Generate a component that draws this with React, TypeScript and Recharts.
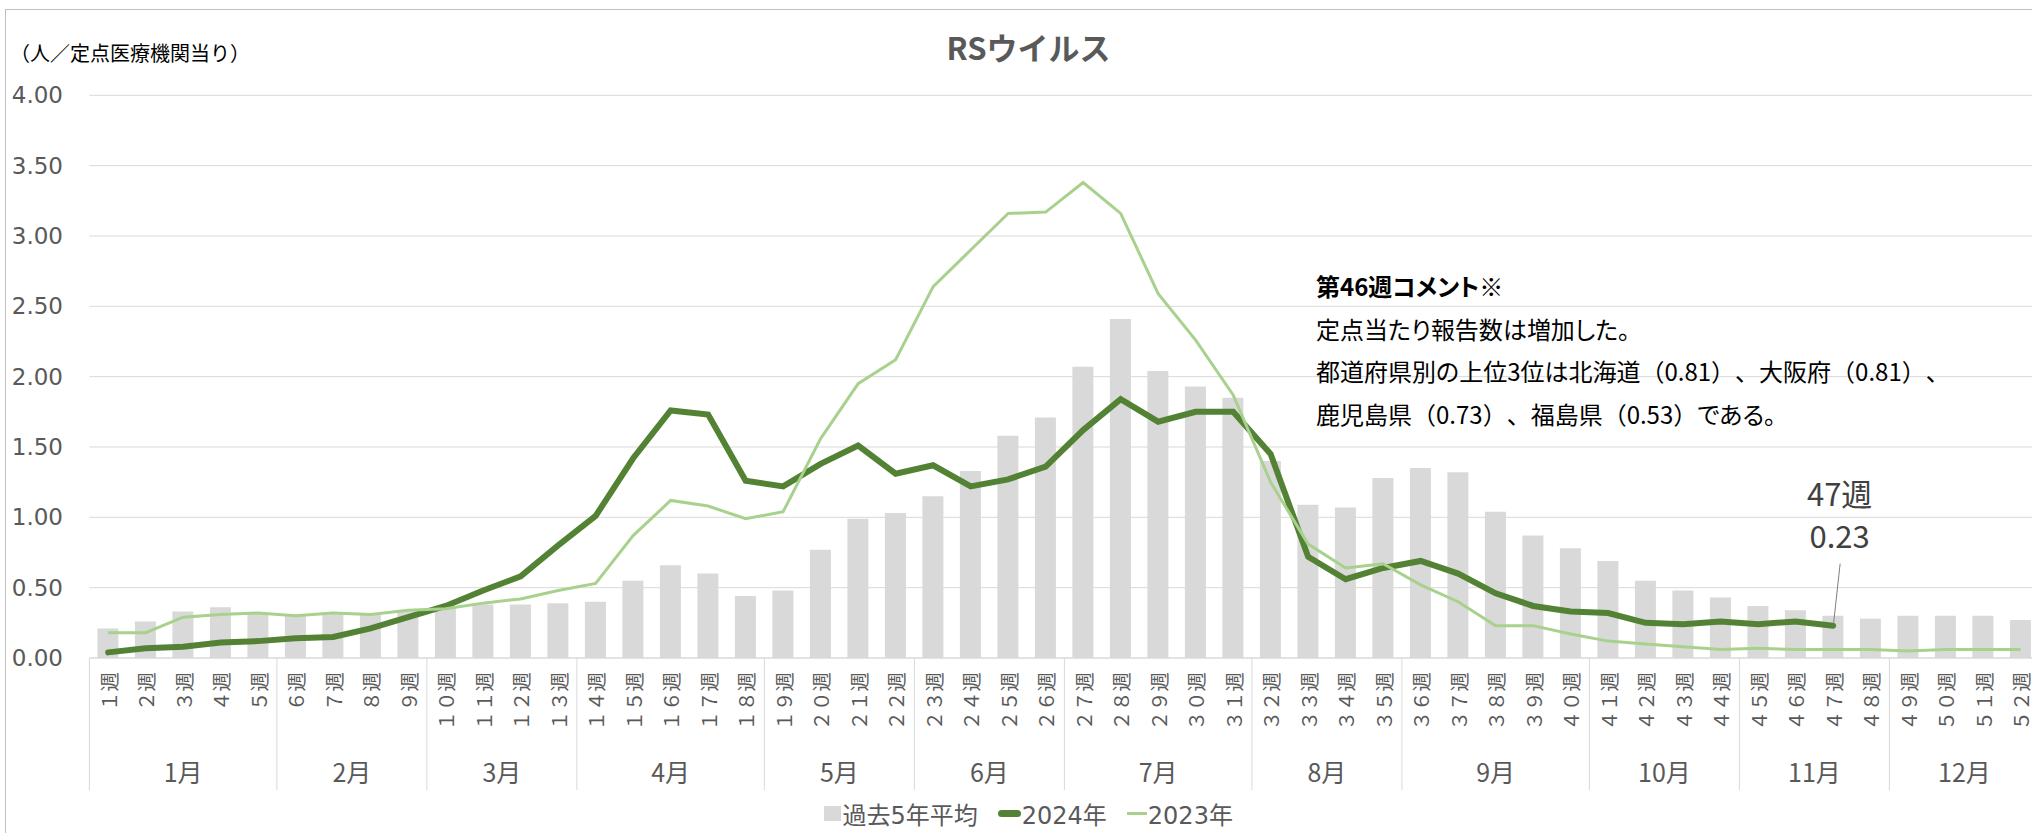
import { ComposedChart, Bar, Line, XAxis, YAxis, CartesianGrid, Legend } from 'recharts';

const WEEKS = [
  '1週', '2週', '3週', '4週', '5週', '6週', '7週', '8週', '9週', '10週',
  '11週', '12週', '13週', '14週', '15週', '16週', '17週', '18週', '19週', '20週',
  '21週', '22週', '23週', '24週', '25週', '26週', '27週', '28週', '29週', '30週',
  '31週', '32週', '33週', '34週', '35週', '36週', '37週', '38週', '39週', '40週',
  '41週', '42週', '43週', '44週', '45週', '46週', '47週', '48週', '49週', '50週',
  '51週', '52週',
];

const MONTHS = ['1月', '2月', '3月', '4月', '5月', '6月', '7月', '8月', '9月', '10月', '11月', '12月'];
const MONTH_WEEKS = [5, 4, 4, 5, 4, 4, 5, 4, 5, 4, 4, 4];

// 過去5年平均
const AVG_5Y = [
  0.21, 0.26, 0.33, 0.36, 0.32, 0.30, 0.31, 0.31, 0.34, 0.36,
  0.38, 0.38, 0.39, 0.40, 0.55, 0.66, 0.60, 0.44, 0.48, 0.77,
  0.99, 1.03, 1.15, 1.33, 1.58, 1.71, 2.07, 2.41, 2.04, 1.93,
  1.85, 1.40, 1.09, 1.07, 1.28, 1.35, 1.32, 1.04, 0.87, 0.78,
  0.69, 0.55, 0.48, 0.43, 0.37, 0.34, 0.30, 0.28, 0.30, 0.30,
  0.30, 0.27,
];

// 2024年 (47週まで)
const Y2024 = [
  0.04, 0.07, 0.08, 0.11, 0.12, 0.14, 0.15, 0.21, 0.29, 0.37,
  0.48, 0.58, 0.80, 1.01, 1.42, 1.76, 1.73, 1.26, 1.22, 1.38,
  1.51, 1.31, 1.37, 1.22, 1.27, 1.36, 1.62, 1.84, 1.68, 1.75,
  1.75, 1.45, 0.72, 0.56, 0.64, 0.69, 0.60, 0.46, 0.37, 0.33,
  0.32, 0.25, 0.24, 0.26, 0.24, 0.26, 0.23,
];

const Y2023 = [
  0.18, 0.18, 0.29, 0.31, 0.32, 0.30, 0.32, 0.31, 0.34, 0.35,
  0.39, 0.42, 0.48, 0.53, 0.87, 1.12, 1.08, 0.99, 1.04, 1.56,
  1.95, 2.12, 2.64, 2.90, 3.16, 3.17, 3.38, 3.16, 2.59, 2.26,
  1.87, 1.25, 0.81, 0.64, 0.67, 0.52, 0.40, 0.23, 0.23, 0.17,
  0.12, 0.10, 0.08, 0.06, 0.07, 0.06, 0.06, 0.06, 0.05, 0.06,
  0.06, 0.06,
];

const Y_TICKS = [0, 0.5, 1, 1.5, 2, 2.5, 3, 3.5, 4];

const COMMENT_LINES = [
  '第46週コメント※',
  '定点当たり報告数は増加した。',
  '都道府県別の上位3位は北海道（0.81）、大阪府（0.81）、',
  '鹿児島県（0.73）、福島県（0.53）である。',
];

const LEGEND_ORDER = ['avg', 'y2024', 'y2023'];

const data = WEEKS.map((week, i) => ({
  week,
  avg: AVG_5Y[i],
  y2024: i < Y2024.length ? Y2024[i] : null,
  y2023: Y2023[i],
}));

const CHART_W = 2050;
const CHART_H = 833;
const MARGIN = { top: 95.3, right: 10.6, bottom: 5, left: 18 };
const Y_AXIS_W = 71.4;
const PLOT_LEFT = MARGIN.left + Y_AXIS_W;
const BAND = (CHART_W - MARGIN.right - PLOT_LEFT) / WEEKS.length;
const LATEST = Y2024.length - 1;

const LATIN = '"DejaVu Sans", "Noto Sans CJK JP", sans-serif';
const CJK = '"Noto Sans CJK JP", sans-serif';
const GRAY_TEXT = '#595959';

const MONTH_START: number[] = [];
MONTH_WEEKS.reduce((acc, n) => {
  MONTH_START.push(acc);
  return acc + n;
}, 0);

// axis labels in the original use full-width digits
const toWide = (s: string) => s.replace(/[0-9]/g, (d) => String.fromCharCode(d.charCodeAt(0) + 0xfee0));

// kana are set proportionally, kanji and brackets stay full width
function ja(text: string) {
  return text.split(/([\u3041-\u309f\u30a0-\u30ff]+)/).map((part, i) =>
    /^[\u3041-\u309f\u30a0-\u30ff]+$/.test(part) ? (
      <span key={i} style={{ fontFeatureSettings: '"palt"' }}>{part}</span>
    ) : (
      part
    )
  );
}

function WeekTick(props: any) {
  const { x, y, payload } = props;
  const i = props.index ?? payload.index;
  const m = MONTH_START.indexOf(i);
  const left = x - BAND / 2;
  return (
    <g>
      <text
        transform={`translate(${x},${y + 14}) rotate(-90)`}
        textAnchor="end"
        dominantBaseline="central"
        fontSize={19.5}
        fontFamily={CJK}
        fill={GRAY_TEXT}
      >
        {toWide(String(payload.value))}
      </text>
      {m >= 0 && (
        <>
          <line x1={left} x2={left} y1={y} y2={y + 132} stroke="#d9d9d9" />
          <text
            x={left + (MONTH_WEEKS[m] * BAND) / 2}
            y={y + 113}
            textAnchor="middle"
            dominantBaseline="central"
            fontSize={25}
            fontFamily={CJK}
            fill={GRAY_TEXT}
          >
            {MONTHS[m]}
          </text>
        </>
      )}
      {i === WEEKS.length - 1 && (
        <line x1={x + BAND / 2} x2={x + BAND / 2} y1={y} y2={y + 132} stroke="#d9d9d9" />
      )}
    </g>
  );
}

function LatestLabel(props: any) {
  const { x, y, index, value } = props;
  if (index !== LATEST || value == null) return null;
  return (
    <g>
      <line x1={x + 7} y1={y - 62} x2={x + 0.5} y2={y - 3} stroke="#7f7f7f" strokeWidth={1} />
      <text x={x + 6.5} y={y - 133} textAnchor="middle" dominantBaseline="central" fontSize={31} fontFamily={CJK} fill="#404040">
        {WEEKS[index]}
      </text>
      <text x={x + 6.5} y={y - 91} textAnchor="middle" dominantBaseline="central" fontSize={31} fontFamily={CJK} fill="#404040">
        {Number(value).toFixed(2)}
      </text>
    </g>
  );
}

function LegendContent({ payload }: any) {
  const items = [...(payload || [])].sort(
    (a: any, b: any) => LEGEND_ORDER.indexOf(a.dataKey) - LEGEND_ORDER.indexOf(b.dataKey)
  );
  return (
    <div style={{ display: 'flex', justifyContent: 'center', alignItems: 'center', height: 30, fontFamily: LATIN, fontSize: 24, color: GRAY_TEXT }}>
      {items.map((entry: any) => {
        let marker;
        if (entry.dataKey === 'avg') {
          marker = <span style={{ display: 'inline-block', width: 17, height: 15, background: entry.color }} />;
        } else if (entry.dataKey === 'y2024') {
          marker = <span style={{ display: 'inline-block', width: 23, height: 7, borderRadius: 4, background: entry.color }} />;
        } else {
          marker = <span style={{ display: 'inline-block', width: 20, height: 3, background: entry.color }} />;
        }
        return (
          <span key={entry.dataKey} style={{ display: 'inline-flex', alignItems: 'center', margin: '0 10px' }}>
            {marker}
            <span style={{ marginLeft: 1 }}>{entry.value}</span>
          </span>
        );
      })}
    </div>
  );
}

export default function App() {
  return (
    <div style={{ position: 'fixed', left: 0, top: 0, width: 2032, height: 833, overflow: 'hidden', background: '#fff' }}>
      <div style={{ position: 'absolute', left: 5, top: 9, width: 2100, height: 900, borderLeft: '1px solid #c0c0c0', borderTop: '1px solid #c0c0c0' }} />
      <div style={{ position: 'absolute', left: 0, top: 0 }}>
        <ComposedChart width={CHART_W} height={CHART_H} data={data} margin={MARGIN}>
          <CartesianGrid vertical={false} stroke="#d9d9d9" />
          <XAxis
            dataKey="week"
            interval={0}
            height={140}
            tickLine={false}
            tickSize={0}
            tickMargin={0}
            axisLine={{ stroke: '#d9d9d9' }}
            tick={<WeekTick />}
          />
          <YAxis
            width={Y_AXIS_W}
            domain={[0, 4]}
            ticks={Y_TICKS}
            tickFormatter={(v: number) => v.toFixed(2)}
            axisLine={false}
            tickLine={false}
            tickMargin={20.4}
            tick={{ fill: GRAY_TEXT, fontSize: 23, fontFamily: LATIN }}
          />
          <Legend verticalAlign="bottom" height={30} content={<LegendContent />} />
          <Bar dataKey="avg" name="過去5年平均" fill="#d9d9d9" barSize={21} isAnimationActive={false} />
          <Line
            dataKey="y2024"
            name="2024年"
            type="linear"
            stroke="#548235"
            strokeWidth={6}
            strokeLinecap="round"
            dot={false}
            activeDot={false}
            isAnimationActive={false}
            label={<LatestLabel />}
          />
          <Line
            dataKey="y2023"
            name="2023年"
            type="linear"
            stroke="#a9d18e"
            strokeWidth={3}
            dot={false}
            activeDot={false}
            isAnimationActive={false}
          />
        </ComposedChart>
      </div>
      <div style={{ position: 'absolute', left: 0, width: 2057, top: 31, textAlign: 'center', fontFamily: CJK, fontWeight: 700, fontSize: 31, lineHeight: '32px', color: GRAY_TEXT }}>
        RSウイルス
      </div>
      <div style={{ position: 'absolute', left: 10, top: 42, fontFamily: CJK, fontSize: 20, lineHeight: '22px', color: '#000' }}>
        （人／定点医療機関当り）
      </div>
      <div
        style={{
          position: 'absolute',
          left: 1316,
          top: 265,
          fontFamily: CJK,
          fontSize: 24,
          lineHeight: '42.6px',
          color: '#000',
          whiteSpace: 'nowrap',
          textSpacingTrim: 'space-all',
        } as any}
      >
        {COMMENT_LINES.map((t, i) => (
          <div key={i} style={{ fontWeight: i === 0 ? 700 : 400 }}>{ja(t)}</div>
        ))}
      </div>
    </div>
  );
}
